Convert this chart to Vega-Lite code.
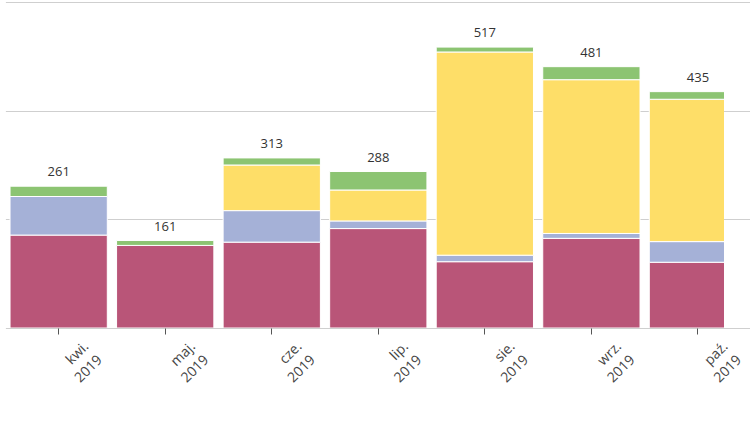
{
  "$schema": "https://vega.github.io/schema/vega-lite/v6.json",
  "autosize": {"type": "none"},
  "width": 724,
  "height": 326,
  "padding": {"left": 0, "top": 2, "right": 26, "bottom": 95},
  "background": "white",
  "config": {
    "view": {"stroke": null},
    "font": "Open Sans"
  },
  "data": {
    "values": [
      {"miesiac": "kwi. 2019", "seria": "Seria 1", "liczba": 171},
      {"miesiac": "kwi. 2019", "seria": "Seria 2", "liczba": 71},
      {"miesiac": "kwi. 2019", "seria": "Seria 4", "liczba": 19},
      {"miesiac": "maj. 2019", "seria": "Seria 1", "liczba": 152},
      {"miesiac": "maj. 2019", "seria": "Seria 4", "liczba": 9},
      {"miesiac": "cze. 2019", "seria": "Seria 1", "liczba": 158},
      {"miesiac": "cze. 2019", "seria": "Seria 2", "liczba": 58},
      {"miesiac": "cze. 2019", "seria": "Seria 3", "liczba": 84},
      {"miesiac": "cze. 2019", "seria": "Seria 4", "liczba": 13},
      {"miesiac": "lip. 2019", "seria": "Seria 1", "liczba": 183},
      {"miesiac": "lip. 2019", "seria": "Seria 2", "liczba": 14},
      {"miesiac": "lip. 2019", "seria": "Seria 3", "liczba": 57},
      {"miesiac": "lip. 2019", "seria": "Seria 4", "liczba": 34},
      {"miesiac": "sie. 2019", "seria": "Seria 1", "liczba": 122},
      {"miesiac": "sie. 2019", "seria": "Seria 2", "liczba": 12},
      {"miesiac": "sie. 2019", "seria": "Seria 3", "liczba": 374},
      {"miesiac": "sie. 2019", "seria": "Seria 4", "liczba": 9},
      {"miesiac": "wrz. 2019", "seria": "Seria 1", "liczba": 165},
      {"miesiac": "wrz. 2019", "seria": "Seria 2", "liczba": 9},
      {"miesiac": "wrz. 2019", "seria": "Seria 3", "liczba": 283},
      {"miesiac": "wrz. 2019", "seria": "Seria 4", "liczba": 24},
      {"miesiac": "paź. 2019", "seria": "Seria 1", "liczba": 121},
      {"miesiac": "paź. 2019", "seria": "Seria 2", "liczba": 38},
      {"miesiac": "paź. 2019", "seria": "Seria 3", "liczba": 262},
      {"miesiac": "paź. 2019", "seria": "Seria 4", "liczba": 14}
    ]
  },
  "encoding": {
    "x": {
      "field": "miesiac",
      "type": "nominal",
      "sort": null,
      "title": null,
      "scale": {"rangeMin": 5.4, "rangeMax": 751.2, "paddingInner": 0.087, "paddingOuter": 0.0435},
      "axis": {
        "domain": false,
        "tickColor": "#555",
        "tickSize": 6,
        "labelAngle": -45,
        "labelAlign": "right",
        "labelBaseline": "top",
        "labelOffset": 23,
        "labelPadding": 5,
        "labelFontSize": 14,
        "labelLineHeight": 19,
        "labelColor": "#444",
        "labelExpr": "split(datum.label, ' ')"
      }
    }
  },
  "layer": [
    {
      "mark": {"type": "bar", "clip": true, "stroke": "white", "strokeWidth": 1},
      "encoding": {
        "y": {
          "field": "liczba",
          "type": "quantitative",
          "stack": "zero",
          "title": null,
          "scale": {"domain": [0, 600], "nice": false},
          "axis": {
            "values": [0, 200, 400, 600],
            "labels": false,
            "ticks": false,
            "domain": false,
            "gridColor": "#cfcfcf",
            "gridWidth": 1
          }
        },
        "color": {
          "field": "seria",
          "type": "nominal",
          "legend": null,
          "scale": {
            "domain": ["Seria 1", "Seria 2", "Seria 3", "Seria 4"],
            "range": ["#b95578", "#a5b1d7", "#fede68", "#8cc472"]
          }
        },
        "order": {"field": "seria", "sort": "ascending"}
      }
    },
    {
      "mark": {"type": "rule", "color": "#666", "strokeWidth": 1.5},
      "encoding": {"y": {"datum": 0}}
    },
    {
      "transform": [
        {"aggregate": [{"op": "sum", "field": "liczba", "as": "suma"}], "groupby": ["miesiac"]}
      ],
      "mark": {"type": "text", "baseline": "alphabetic", "dy": -10, "fontSize": 13, "color": "#333"},
      "encoding": {
        "y": {"field": "suma", "type": "quantitative"},
        "text": {"field": "suma", "type": "quantitative"}
      }
    }
  ]
}
